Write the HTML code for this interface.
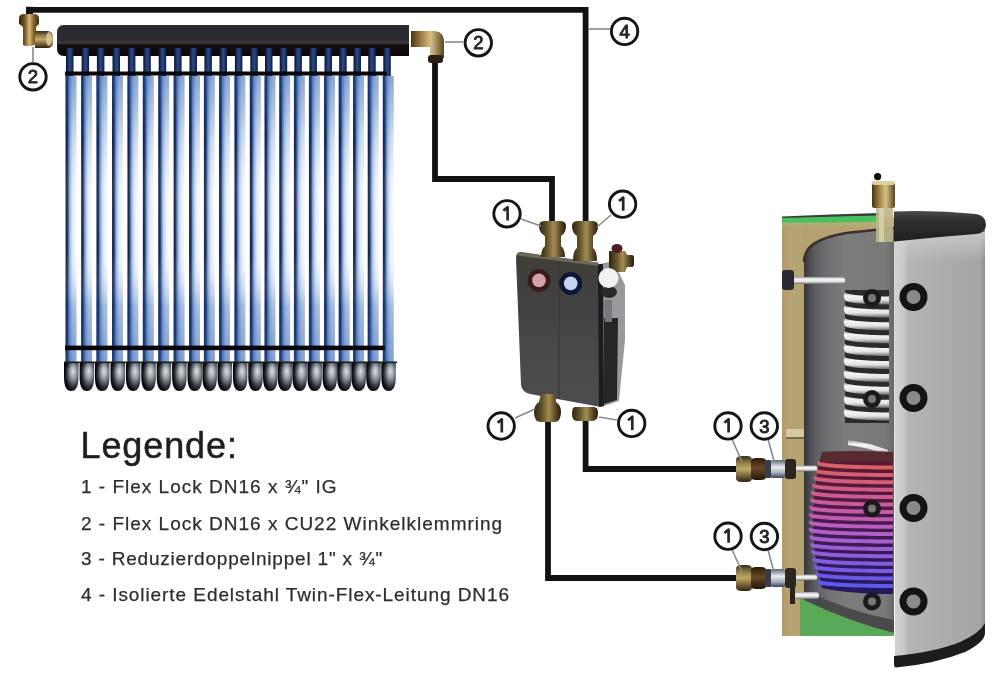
<!DOCTYPE html>
<html><head><meta charset="utf-8">
<style>
html,body{margin:0;padding:0;background:#fff;}
body{width:1000px;height:674px;overflow:hidden;position:relative;}
svg{position:absolute;left:0;top:0;}
#wrap{position:absolute;left:0;top:0;width:1000px;height:674px;background:#fff;filter:blur(0.45px);}
.lg{position:absolute;font-family:"Liberation Sans",sans-serif;color:#1e1e1e;white-space:nowrap;line-height:1;}
.it{font-size:19px;color:#2e2e2e;-webkit-text-stroke:0.25px #2e2e2e;}
</style></head><body>
<div id="wrap">

<svg width="1000" height="674" viewBox="0 0 1000 674">
<defs>
<linearGradient id="tubeH" x1="0" x2="1" y1="0" y2="0">
<stop offset="0" stop-color="#22305f"/>
<stop offset="0.08" stop-color="#0c1438"/>
<stop offset="0.2" stop-color="#1a3068"/>
<stop offset="0.32" stop-color="#6a90c8"/>
<stop offset="0.48" stop-color="#b4cce8"/>
<stop offset="0.68" stop-color="#e6eef8"/>
<stop offset="1" stop-color="#f8fbfe"/>
</linearGradient>
<linearGradient id="tubeV" x1="0" x2="0" y1="0" y2="1">
<stop offset="0" stop-color="#2a5aa8" stop-opacity="0.5"/>
<stop offset="0.22" stop-color="#2a5aa8" stop-opacity="0.15"/>
<stop offset="0.4" stop-color="#ffffff" stop-opacity="0.1"/>
<stop offset="0.62" stop-color="#ffffff" stop-opacity="0.05"/>
<stop offset="0.8" stop-color="#2a5aa8" stop-opacity="0.35"/>
<stop offset="1" stop-color="#2a5aa8" stop-opacity="0.55"/>
</linearGradient>
<linearGradient id="neck" x1="0" x2="1" y1="0" y2="0">
<stop offset="0" stop-color="#0a1030"/>
<stop offset="0.5" stop-color="#2c4c86"/>
<stop offset="1" stop-color="#101c44"/>
</linearGradient>
<linearGradient id="capH" x1="0" x2="1" y1="0" y2="0">
<stop offset="0" stop-color="#0e1014"/>
<stop offset="0.22" stop-color="#3a3e46"/>
<stop offset="0.48" stop-color="#a4acb6"/>
<stop offset="0.62" stop-color="#cfd5dc"/>
<stop offset="0.82" stop-color="#8a9098"/>
<stop offset="1" stop-color="#2a2e34"/>
</linearGradient>
<radialGradient id="capR" cx="0.66" cy="0.42" r="0.62" fx="0.62" fy="0.3">
<stop offset="0" stop-color="#dde2e8"/>
<stop offset="0.35" stop-color="#9aa0a8"/>
<stop offset="0.75" stop-color="#2e3238"/>
<stop offset="1" stop-color="#060708"/>
</radialGradient>
<linearGradient id="hdr" x1="0" x2="0" y1="0" y2="1">
<stop offset="0" stop-color="#2a2a30"/>
<stop offset="0.5" stop-color="#2c2c32"/>
<stop offset="0.58" stop-color="#3a3a40"/>
<stop offset="0.65" stop-color="#150d0d"/>
<stop offset="1" stop-color="#0d0808"/>
</linearGradient>
<linearGradient id="brass" x1="0" x2="1" y1="0" y2="0">
<stop offset="0" stop-color="#4a3512"/>
<stop offset="0.35" stop-color="#a8894a"/>
<stop offset="0.6" stop-color="#d6c088"/>
<stop offset="1" stop-color="#5a4420"/>
</linearGradient>
<linearGradient id="olive" x1="0" x2="1" y1="0" y2="0">
<stop offset="0" stop-color="#2e2410"/>
<stop offset="0.3" stop-color="#64542a"/>
<stop offset="0.55" stop-color="#a48c54"/>
<stop offset="0.8" stop-color="#584826"/>
<stop offset="1" stop-color="#261c0a"/>
</linearGradient>
<linearGradient id="brassD" x1="0" x2="1" y1="0" y2="0">
<stop offset="0" stop-color="#2e2008"/>
<stop offset="0.3" stop-color="#7a5a28"/>
<stop offset="0.52" stop-color="#d8b878"/>
<stop offset="0.72" stop-color="#8a6a30"/>
<stop offset="1" stop-color="#3a2a10"/>
</linearGradient>
<linearGradient id="darkNut" x1="0" x2="0" y1="0" y2="1">
<stop offset="0" stop-color="#2a1a0a"/>
<stop offset="0.45" stop-color="#6a4a26"/>
<stop offset="1" stop-color="#22160a"/>
</linearGradient>
<linearGradient id="oliveV" x1="0" x2="0" y1="0" y2="1">
<stop offset="0" stop-color="#3a2e12"/>
<stop offset="0.3" stop-color="#9a8450"/>
<stop offset="0.5" stop-color="#c0a868"/>
<stop offset="0.8" stop-color="#6a5830"/>
<stop offset="1" stop-color="#2e2410"/>
</linearGradient>
<linearGradient id="brassV" x1="0" x2="0" y1="0" y2="1">
<stop offset="0" stop-color="#5a4420"/>
<stop offset="0.4" stop-color="#c8ac70"/>
<stop offset="0.7" stop-color="#a08040"/>
<stop offset="1" stop-color="#4a3512"/>
</linearGradient>
<linearGradient id="chrome" x1="0" x2="0" y1="0" y2="1">
<stop offset="0" stop-color="#606878"/>
<stop offset="0.4" stop-color="#e8ecf2"/>
<stop offset="0.7" stop-color="#a8b0bc"/>
<stop offset="1" stop-color="#3a4050"/>
</linearGradient>
<linearGradient id="silver" x1="0" x2="0" y1="0" y2="1">
<stop offset="0" stop-color="#9a9a9a"/>
<stop offset="0.3" stop-color="#f6f6f6"/>
<stop offset="0.65" stop-color="#e4e4e4"/>
<stop offset="1" stop-color="#6a6a6a"/>
</linearGradient>
<linearGradient id="shell" x1="0" x2="1" y1="0" y2="0">
<stop offset="0" stop-color="#d2d2d0"/>
<stop offset="0.1" stop-color="#cacaca"/>
<stop offset="0.16" stop-color="#b4b4b4"/>
<stop offset="0.6" stop-color="#ababab"/>
<stop offset="0.94" stop-color="#a6a6a6"/>
<stop offset="1" stop-color="#8e8e8e"/>
</linearGradient>
<linearGradient id="shellTop" x1="0" x2="0" y1="0" y2="1">
<stop offset="0" stop-color="#d0d0d0" stop-opacity="0.8"/>
<stop offset="1" stop-color="#d0d0d0" stop-opacity="0"/>
</linearGradient>
<linearGradient id="coilBg" x1="0" x2="0" y1="0" y2="1">
<stop offset="0" stop-color="#5a1a28"/>
<stop offset="0.5" stop-color="#4a1a4e"/>
<stop offset="1" stop-color="#24185e"/>
</linearGradient>
<linearGradient id="inner" x1="0" x2="1" y1="0" y2="0">
<stop offset="0" stop-color="#36363e"/>
<stop offset="0.05" stop-color="#46464c"/>
<stop offset="0.12" stop-color="#5c5c60"/>
<stop offset="0.25" stop-color="#6e6e70"/>
<stop offset="0.45" stop-color="#7c7b7b"/>
<stop offset="0.9" stop-color="#7a7a7a"/>
<stop offset="1" stop-color="#686868"/>
</linearGradient>
<linearGradient id="beige" x1="0" x2="1" y1="0" y2="0">
<stop offset="0" stop-color="#b29a6a"/>
<stop offset="0.08" stop-color="#b9a173"/>
<stop offset="0.16" stop-color="#b2a672"/>
<stop offset="0.2" stop-color="#b4a070"/>
<stop offset="1" stop-color="#bca676"/>
</linearGradient>
<linearGradient id="pumpF" x1="0" x2="0" y1="0" y2="1">
<stop offset="0" stop-color="#403e36"/>
<stop offset="0.35" stop-color="#434142"/>
<stop offset="0.7" stop-color="#4a4a4c"/>
<stop offset="1" stop-color="#4c4c50"/>
</linearGradient>
<linearGradient id="cap" x1="0" x2="0" y1="0" y2="1">
<stop offset="0" stop-color="#4a4a4c"/>
<stop offset="0.3" stop-color="#303032"/>
<stop offset="1" stop-color="#1e1e20"/>
</linearGradient>
</defs>

<!-- ===== collector ===== -->
<path d="M64 25 H409 V56 H64 Q57 56 57 48 V33 Q57 25 64 25 Z" fill="url(#hdr)"/>
<rect x="66.0" y="48" width="7.5" height="30" fill="url(#neck)"/>
<rect x="65.5" y="76" width="11" height="288" fill="url(#tubeH)"/>
<rect x="65.5" y="76" width="11" height="288" fill="url(#tubeV)"/>
<path d="M64.0 362 h14.5 v15 q0 14 -7.25 14 q-7.25 0 -7.25 -14 z" fill="url(#capR)"/>
<rect x="81.6" y="48" width="7.5" height="30" fill="url(#neck)"/>
<rect x="81.1" y="76" width="11" height="288" fill="url(#tubeH)"/>
<rect x="81.1" y="76" width="11" height="288" fill="url(#tubeV)"/>
<path d="M79.6 362 h14.5 v15 q0 14 -7.25 14 q-7.25 0 -7.25 -14 z" fill="url(#capR)"/>
<rect x="96.9" y="48" width="7.5" height="30" fill="url(#neck)"/>
<rect x="96.4" y="76" width="11" height="288" fill="url(#tubeH)"/>
<rect x="96.4" y="76" width="11" height="288" fill="url(#tubeV)"/>
<path d="M94.9 362 h14.5 v15 q0 14 -7.25 14 q-7.25 0 -7.25 -14 z" fill="url(#capR)"/>
<rect x="112.5" y="48" width="7.5" height="30" fill="url(#neck)"/>
<rect x="112.0" y="76" width="11" height="288" fill="url(#tubeH)"/>
<rect x="112.0" y="76" width="11" height="288" fill="url(#tubeV)"/>
<path d="M110.5 362 h14.5 v15 q0 14 -7.25 14 q-7.25 0 -7.25 -14 z" fill="url(#capR)"/>
<rect x="127.9" y="48" width="7.5" height="30" fill="url(#neck)"/>
<rect x="127.4" y="76" width="11" height="288" fill="url(#tubeH)"/>
<rect x="127.4" y="76" width="11" height="288" fill="url(#tubeV)"/>
<path d="M125.9 362 h14.5 v15 q0 14 -7.25 14 q-7.25 0 -7.25 -14 z" fill="url(#capR)"/>
<rect x="143.3" y="48" width="7.5" height="30" fill="url(#neck)"/>
<rect x="142.8" y="76" width="11" height="288" fill="url(#tubeH)"/>
<rect x="142.8" y="76" width="11" height="288" fill="url(#tubeV)"/>
<path d="M141.3 362 h14.5 v15 q0 14 -7.25 14 q-7.25 0 -7.25 -14 z" fill="url(#capR)"/>
<rect x="158.7" y="48" width="7.5" height="30" fill="url(#neck)"/>
<rect x="158.2" y="76" width="11" height="288" fill="url(#tubeH)"/>
<rect x="158.2" y="76" width="11" height="288" fill="url(#tubeV)"/>
<path d="M156.7 362 h14.5 v15 q0 14 -7.25 14 q-7.25 0 -7.25 -14 z" fill="url(#capR)"/>
<rect x="174.1" y="48" width="7.5" height="30" fill="url(#neck)"/>
<rect x="173.6" y="76" width="11" height="288" fill="url(#tubeH)"/>
<rect x="173.6" y="76" width="11" height="288" fill="url(#tubeV)"/>
<path d="M172.1 362 h14.5 v15 q0 14 -7.25 14 q-7.25 0 -7.25 -14 z" fill="url(#capR)"/>
<rect x="189.5" y="48" width="7.5" height="30" fill="url(#neck)"/>
<rect x="189.0" y="76" width="11" height="288" fill="url(#tubeH)"/>
<rect x="189.0" y="76" width="11" height="288" fill="url(#tubeV)"/>
<path d="M187.5 362 h14.5 v15 q0 14 -7.25 14 q-7.25 0 -7.25 -14 z" fill="url(#capR)"/>
<rect x="204.4" y="48" width="7.5" height="30" fill="url(#neck)"/>
<rect x="203.9" y="76" width="11" height="288" fill="url(#tubeH)"/>
<rect x="203.9" y="76" width="11" height="288" fill="url(#tubeV)"/>
<path d="M202.4 362 h14.5 v15 q0 14 -7.25 14 q-7.25 0 -7.25 -14 z" fill="url(#capR)"/>
<rect x="219.5" y="48" width="7.5" height="30" fill="url(#neck)"/>
<rect x="219.0" y="76" width="11" height="288" fill="url(#tubeH)"/>
<rect x="219.0" y="76" width="11" height="288" fill="url(#tubeV)"/>
<path d="M217.5 362 h14.5 v15 q0 14 -7.25 14 q-7.25 0 -7.25 -14 z" fill="url(#capR)"/>
<rect x="234.9" y="48" width="7.5" height="30" fill="url(#neck)"/>
<rect x="234.4" y="76" width="11" height="288" fill="url(#tubeH)"/>
<rect x="234.4" y="76" width="11" height="288" fill="url(#tubeV)"/>
<path d="M232.9 362 h14.5 v15 q0 14 -7.25 14 q-7.25 0 -7.25 -14 z" fill="url(#capR)"/>
<rect x="250.3" y="48" width="7.5" height="30" fill="url(#neck)"/>
<rect x="249.8" y="76" width="11" height="288" fill="url(#tubeH)"/>
<rect x="249.8" y="76" width="11" height="288" fill="url(#tubeV)"/>
<path d="M248.3 362 h14.5 v15 q0 14 -7.25 14 q-7.25 0 -7.25 -14 z" fill="url(#capR)"/>
<rect x="265.0" y="48" width="7.5" height="30" fill="url(#neck)"/>
<rect x="264.5" y="76" width="11" height="288" fill="url(#tubeH)"/>
<rect x="264.5" y="76" width="11" height="288" fill="url(#tubeV)"/>
<path d="M263.0 362 h14.5 v15 q0 14 -7.25 14 q-7.25 0 -7.25 -14 z" fill="url(#capR)"/>
<rect x="279.7" y="48" width="7.5" height="30" fill="url(#neck)"/>
<rect x="279.2" y="76" width="11" height="288" fill="url(#tubeH)"/>
<rect x="279.2" y="76" width="11" height="288" fill="url(#tubeV)"/>
<path d="M277.7 362 h14.5 v15 q0 14 -7.25 14 q-7.25 0 -7.25 -14 z" fill="url(#capR)"/>
<rect x="294.4" y="48" width="7.5" height="30" fill="url(#neck)"/>
<rect x="293.9" y="76" width="11" height="288" fill="url(#tubeH)"/>
<rect x="293.9" y="76" width="11" height="288" fill="url(#tubeV)"/>
<path d="M292.4 362 h14.5 v15 q0 14 -7.25 14 q-7.25 0 -7.25 -14 z" fill="url(#capR)"/>
<rect x="309.4" y="48" width="7.5" height="30" fill="url(#neck)"/>
<rect x="308.9" y="76" width="11" height="288" fill="url(#tubeH)"/>
<rect x="308.9" y="76" width="11" height="288" fill="url(#tubeV)"/>
<path d="M307.4 362 h14.5 v15 q0 14 -7.25 14 q-7.25 0 -7.25 -14 z" fill="url(#capR)"/>
<rect x="324.5" y="48" width="7.5" height="30" fill="url(#neck)"/>
<rect x="324.0" y="76" width="11" height="288" fill="url(#tubeH)"/>
<rect x="324.0" y="76" width="11" height="288" fill="url(#tubeV)"/>
<path d="M322.5 362 h14.5 v15 q0 14 -7.25 14 q-7.25 0 -7.25 -14 z" fill="url(#capR)"/>
<rect x="339.2" y="48" width="7.5" height="30" fill="url(#neck)"/>
<rect x="338.7" y="76" width="11" height="288" fill="url(#tubeH)"/>
<rect x="338.7" y="76" width="11" height="288" fill="url(#tubeV)"/>
<path d="M337.2 362 h14.5 v15 q0 14 -7.25 14 q-7.25 0 -7.25 -14 z" fill="url(#capR)"/>
<rect x="353.5" y="48" width="7.5" height="30" fill="url(#neck)"/>
<rect x="353.0" y="76" width="11" height="288" fill="url(#tubeH)"/>
<rect x="353.0" y="76" width="11" height="288" fill="url(#tubeV)"/>
<path d="M351.5 362 h14.5 v15 q0 14 -7.25 14 q-7.25 0 -7.25 -14 z" fill="url(#capR)"/>
<rect x="368.2" y="48" width="7.5" height="30" fill="url(#neck)"/>
<rect x="367.7" y="76" width="11" height="288" fill="url(#tubeH)"/>
<rect x="367.7" y="76" width="11" height="288" fill="url(#tubeV)"/>
<path d="M366.2 362 h14.5 v15 q0 14 -7.25 14 q-7.25 0 -7.25 -14 z" fill="url(#capR)"/>
<rect x="383.3" y="48" width="7.5" height="30" fill="url(#neck)"/>
<rect x="382.8" y="76" width="11" height="288" fill="url(#tubeH)"/>
<rect x="382.8" y="76" width="11" height="288" fill="url(#tubeV)"/>
<path d="M381.3 362 h14.5 v15 q0 14 -7.25 14 q-7.25 0 -7.25 -14 z" fill="url(#capR)"/>
<rect x="65" y="71.5" width="322" height="4" fill="#08080c"/>
<rect x="65" y="345.6" width="320" height="4.6" fill="#08080c"/>
<rect x="64" y="361.5" width="333" height="1.5" fill="#1a1a1e"/>

<!-- ===== pipes ===== -->
<g fill="none" stroke="#121212" stroke-width="5.8" stroke-linejoin="miter">
<path d="M29.5 15 V9.8 H585.6 V224"/>
<path d="M435 60 V179 H552 V224"/>
<path d="M548 420 V578 H740"/>
<path d="M585.6 418 V469 H740"/>
</g>

<!-- brass fittings at collector -->
<g>
<path d="M26 6.8 H33 V15 H26 Z" fill="#121212"/>
<path d="M19 19 Q19 14 24 14 H34 Q39 14 39 19 V24 Q36 26 36 28 V44 Q30 48 23 45 V28 Q23 26 19 24 Z" fill="url(#brassD)"/>
<path d="M35 31 H47 Q53 31 53 38 V42 Q53 48 47 48 H35 Z" fill="url(#oliveV)"/>
<ellipse cx="49" cy="39" rx="3" ry="7" fill="#d8d4a0" opacity="0.8"/>
<path d="M411 31 H433 Q444 31 444 42 V58 H430 V47 H411 Z" fill="url(#brass)"/>
<rect x="428" y="55" width="15" height="8" rx="3" fill="#2a1e10"/>
</g>

<!-- ===== pump station ===== -->
<path d="M521 252 L596 263 Q600 264 600 268 L601 407 L530 394 Q522 392 521 385 L516 258 Q516 252 521 252 Z" fill="url(#pumpF)"/>
<path d="M600 264 L613 261 L625 285 L625 340 L619 401 L601 407 Z" fill="#9a9a9e"/>
<path d="M598 264 L603 264 L604 406 L599 407 Z" fill="#1c1c1e"/>
<path d="M604 318 L618 318 L617 400 L604 404 Z" fill="#262628"/>
<ellipse cx="609" cy="292" rx="8" ry="6" fill="#2a2a2c"/>
<path d="M604 300 L612 300 L612 322 L605 322 Z" fill="#78787c"/>
<line x1="559" y1="262" x2="559" y2="399" stroke="#3a3a3c" stroke-width="1.2"/>
<path d="M519 254 L597 264" stroke="#6c6a5a" stroke-width="3.5" fill="none" stroke-linecap="round"/>
<!-- fittings pump -->
<path d="M539 226 Q539 221 545 221 H560 Q566 221 566 226 Q566 233 561 236 V246 Q565 249 565 257 H541 Q541 249 545 246 V236 Q539 233 539 226 Z" fill="url(#olive)"/>
<path d="M572 226 Q572 221 578 221 H592 Q598 221 598 226 Q598 233 593 236 V248 Q597 251 597 261 H573 Q573 251 577 248 V236 Q572 233 572 226 Z" fill="url(#olive)"/>
<path d="M541 394 H556 V402 Q561 405 561 412 Q561 422 554 422 H541 Q534 422 534 412 Q534 405 539 402 Z" fill="url(#olive)"/>
<path d="M575 407 H594 Q598 407 598 413 Q598 421 592 421 H577 Q572 421 572 414 Q572 407 575 407 Z" fill="url(#olive)"/>
<path d="M609 251 h16 l2 4 h5 q2 0 2 3 v6 q0 3 -2 3 h-5 l-2 5 h-16 z" fill="url(#olive)"/>
<ellipse cx="617" cy="248.5" rx="5.5" ry="4.5" fill="#4a1e22"/>
<circle cx="539" cy="280.4" r="11.4" fill="#3a1a1c"/><circle cx="539" cy="280.4" r="6.8" fill="#d4a0a8"/>
<circle cx="570.7" cy="283.4" r="11.5" fill="#0e1636"/><circle cx="570.7" cy="283.4" r="6.8" fill="#c4d4f0"/>
<circle cx="608.5" cy="278" r="10" fill="#f2f2f2"/>

<!-- ===== tank ===== -->
<rect x="782" y="217" width="112" height="419" fill="url(#beige)"/>
<path d="M782 216.5 Q830 214 880 213 V216 Q830 217 782 218.5 Z" fill="#3a3a36"/>
<path d="M782 218 Q830 216.5 880 215.5 V221.5 Q830 222.5 782 223 Z" fill="#46c060"/>
<rect x="782" y="222.5" width="98" height="3" fill="#a8b878" opacity="0.7"/>
<path d="M804 262 C804 246 818 238 846 233 L894 228 V632 Q850 620 804 595 Z" fill="url(#inner)"/>
<path d="M804 262 C804 246 818 238 846 233 L894 228" fill="none" stroke="#3a302a" stroke-width="2.5"/>
<path d="M800 595 Q850 622 894 633 V636 H800 Z" fill="#58a858"/>
<path d="M804 590 Q850 612 894 620 V633 Q850 622 804 600 Z" fill="#4a4a4c"/>
<rect x="845" y="290" width="44" height="133" fill="#2a2a2c"/>
<path d="M845.0 292.0 C845.0 294.7 864.8 296.5 889.0 296.5 v8.0 C864.8 304.5 845.0 302.7 845.0 300.0 Q842.5 296.0 845.0 292.0 z" fill="url(#silver)"/>
<path d="M845.0 304.9 C845.0 307.6 864.8 309.4 889.0 309.4 v8.0 C864.8 317.4 845.0 315.6 845.0 312.9 Q842.5 308.9 845.0 304.9 z" fill="url(#silver)"/>
<path d="M845.0 317.8 C845.0 320.5 864.8 322.3 889.0 322.3 v8.0 C864.8 330.3 845.0 328.5 845.0 325.8 Q842.5 321.8 845.0 317.8 z" fill="url(#silver)"/>
<path d="M845.0 330.7 C845.0 333.4 864.8 335.2 889.0 335.2 v8.0 C864.8 343.2 845.0 341.4 845.0 338.7 Q842.5 334.7 845.0 330.7 z" fill="url(#silver)"/>
<path d="M845.0 343.6 C845.0 346.3 864.8 348.1 889.0 348.1 v8.0 C864.8 356.1 845.0 354.3 845.0 351.6 Q842.5 347.6 845.0 343.6 z" fill="url(#silver)"/>
<path d="M845.0 356.5 C845.0 359.2 864.8 361.0 889.0 361.0 v8.0 C864.8 369.0 845.0 367.2 845.0 364.5 Q842.5 360.5 845.0 356.5 z" fill="url(#silver)"/>
<path d="M845.0 369.4 C845.0 372.1 864.8 373.9 889.0 373.9 v8.0 C864.8 381.9 845.0 380.1 845.0 377.4 Q842.5 373.4 845.0 369.4 z" fill="url(#silver)"/>
<path d="M845.0 382.3 C845.0 385.0 864.8 386.8 889.0 386.8 v8.0 C864.8 394.8 845.0 393.0 845.0 390.3 Q842.5 386.3 845.0 382.3 z" fill="url(#silver)"/>
<path d="M845.0 395.2 C845.0 397.9 864.8 399.7 889.0 399.7 v8.0 C864.8 407.7 845.0 405.9 845.0 403.2 Q842.5 399.2 845.0 395.2 z" fill="url(#silver)"/>
<path d="M845.0 408.1 C845.0 410.8 864.8 412.6 889.0 412.6 v8.0 C864.8 420.6 845.0 418.8 845.0 416.1 Q842.5 412.1 845.0 408.1 z" fill="url(#silver)"/>
<path d="M848 440 Q866 442 888 450 v5 Q866 447 848 445 Z" fill="url(#silver)"/>
<path d="M822 452 Q850 452 893 455 V594 Q850 594 822 588 Q804 522 822 452 Z" fill="url(#coilBg)"/>
<path d="M822 452 Q850 450 893 452 V462 Q850 462 822 462 Z" fill="#5a2a32"/>
<path d="M818.5 461.0 C818.5 463.7 852.0 465.5 893.0 465.5 v4.0 C852.0 469.5 818.5 467.7 818.5 465.0 Q816.0 463.0 818.5 461.0 z" fill="rgb(218, 95, 105)"/>
<path d="M816.5 468.4 C816.5 471.1 850.9 472.9 893.0 472.9 v4.0 C850.9 476.9 816.5 475.1 816.5 472.4 Q814.0 470.4 816.5 468.4 z" fill="rgb(215, 93, 114)"/>
<path d="M814.8 475.8 C814.8 478.5 850.0 480.3 893.0 480.3 v4.0 C850.0 484.3 814.8 482.5 814.8 479.8 Q812.3 477.8 814.8 475.8 z" fill="rgb(212, 92, 123)"/>
<path d="M813.3 483.2 C813.3 485.9 849.2 487.7 893.0 487.7 v4.0 C849.2 491.7 813.3 489.9 813.3 487.2 Q810.8 485.2 813.3 483.2 z" fill="rgb(209, 91, 133)"/>
<path d="M812.1 490.6 C812.1 493.3 848.5 495.1 893.0 495.1 v4.0 C848.5 499.1 812.1 497.3 812.1 494.6 Q809.6 492.6 812.1 490.6 z" fill="rgb(207, 90, 142)"/>
<path d="M811.2 498.0 C811.2 500.7 848.0 502.5 893.0 502.5 v4.0 C848.0 506.5 811.2 504.7 811.2 502.0 Q808.7 500.0 811.2 498.0 z" fill="rgb(203, 90, 152)"/>
<path d="M810.5 505.4 C810.5 508.1 847.6 509.9 893.0 509.9 v4.0 C847.6 513.9 810.5 512.1 810.5 509.4 Q808.0 507.4 810.5 505.4 z" fill="rgb(197, 91, 165)"/>
<path d="M810.1 512.8 C810.1 515.5 847.4 517.3 893.0 517.3 v4.0 C847.4 521.3 810.1 519.5 810.1 516.8 Q807.6 514.8 810.1 512.8 z" fill="rgb(191, 92, 177)"/>
<path d="M810.0 520.2 C810.0 522.9 847.4 524.7 893.0 524.7 v4.0 C847.4 528.7 810.0 526.9 810.0 524.2 Q807.5 522.2 810.0 520.2 z" fill="rgb(185, 94, 190)"/>
<path d="M810.1 527.6 C810.1 530.3 847.4 532.1 893.0 532.1 v4.0 C847.4 536.1 810.1 534.3 810.1 531.6 Q807.6 529.6 810.1 527.6 z" fill="rgb(177, 95, 201)"/>
<path d="M810.6 535.0 C810.6 537.7 847.7 539.5 893.0 539.5 v4.0 C847.7 543.5 810.6 541.7 810.6 539.0 Q808.1 537.0 810.6 535.0 z" fill="rgb(165, 95, 207)"/>
<path d="M811.2 542.4 C811.2 545.1 848.0 546.9 893.0 546.9 v4.0 C848.0 550.9 811.2 549.1 811.2 546.4 Q808.7 544.4 811.2 542.4 z" fill="rgb(152, 95, 213)"/>
<path d="M812.2 549.8 C812.2 552.5 848.5 554.3 893.0 554.3 v4.0 C848.5 558.3 812.2 556.5 812.2 553.8 Q809.7 551.8 812.2 549.8 z" fill="rgb(140, 95, 220)"/>
<path d="M813.4 557.2 C813.4 559.9 849.2 561.7 893.0 561.7 v4.0 C849.2 565.7 813.4 563.9 813.4 561.2 Q810.9 559.2 813.4 557.2 z" fill="rgb(127, 94, 225)"/>
<path d="M814.9 564.6 C814.9 567.3 850.0 569.1 893.0 569.1 v4.0 C850.0 573.1 814.9 571.3 814.9 568.6 Q812.4 566.6 814.9 564.6 z" fill="rgb(115, 93, 228)"/>
<path d="M816.6 572.0 C816.6 574.7 851.0 576.5 893.0 576.5 v4.0 C851.0 580.5 816.6 578.7 816.6 576.0 Q814.1 574.0 816.6 572.0 z" fill="rgb(102, 91, 231)"/>
<path d="M818.6 579.4 C818.6 582.1 852.1 583.9 893.0 583.9 v4.0 C852.1 587.9 818.6 586.1 818.6 583.4 Q816.1 581.4 818.6 579.4 z" fill="rgb(90, 90, 235)"/>
<path d="M894 228 H985 V624 Q980 633 960 642 Q935 652 895 657 Z" fill="url(#shell)"/>
<rect x="894" y="232" width="91" height="30" fill="url(#shellTop)"/>
<path d="M894 211.5 Q935 210 976 214 Q986 215.5 986 224.5 Q986 233.5 976 234 Q935 237 894 241.5 Z" fill="url(#cap)"/>
<path d="M894 656 Q935 652 960 642 Q980 633 985 623 V633 Q985 642 965 652 Q935 664 896 667.5 Q894 667.5 894 664 Z" fill="#1c1c1c"/>
<g>
<circle cx="913.5" cy="297" r="14" fill="#141414"/><circle cx="913.5" cy="297" r="7" fill="#8a8a8a"/>
<circle cx="913.5" cy="398" r="14" fill="#141414"/><circle cx="913.5" cy="398" r="7" fill="#8a8a8a"/>
<circle cx="913.5" cy="508" r="14" fill="#141414"/><circle cx="913.5" cy="508" r="7" fill="#8a8a8a"/>
<circle cx="913.5" cy="601.5" r="14" fill="#141414"/><circle cx="913.5" cy="601.5" r="7" fill="#8a8a8a"/>
<circle cx="872" cy="298" r="9" fill="#1a1a1a"/><circle cx="872" cy="298" r="4" fill="#777"/>
<circle cx="872" cy="399" r="9" fill="#1a1a1a"/><circle cx="872" cy="399" r="4" fill="#777"/>
<circle cx="872" cy="508.5" r="9" fill="#1a1a1a"/><circle cx="872" cy="508.5" r="4" fill="#777"/>
<circle cx="872" cy="601.5" r="9" fill="#1a1a1a"/><circle cx="872" cy="601.5" r="4" fill="#777"/>
</g>
<!-- vent -->
<rect x="876" y="205" width="17" height="37" fill="#bdb68a" opacity="0.9"/>
<rect x="879" y="205" width="5" height="37" fill="#ddd8b0" opacity="0.7"/>
<rect x="872" y="182" width="23" height="26" rx="2" fill="url(#brass)"/>
<rect x="872" y="181" width="23" height="4" rx="2" fill="#e0d0a0"/>
<circle cx="877.6" cy="176.6" r="3.6" fill="#111"/>
<!-- left connections -->
<rect x="790" y="277" width="55" height="7" rx="3" fill="url(#silver)"/>
<rect x="782" y="270" width="12" height="20" rx="3" fill="#2a2a35"/>
<rect x="786" y="429" width="18" height="9" fill="#d6c8a0"/>
<rect x="786" y="437" width="18" height="2" fill="#7a6a48"/>
<path d="M736 460 Q736 456 742 456 H747 Q752 456 752 460 V478 Q752 482 747 482 H742 Q736 482 736 478 Z" fill="url(#oliveV)"/><path d="M751 461 Q751 458 756 458 H761 Q766 458 766 461 V477 Q766 480 761 480 H756 Q751 480 751 477 Z" fill="url(#darkNut)"/><rect x="765" y="460" width="7" height="18" rx="2" fill="#3a3c48"/><rect x="771" y="460" width="14" height="18" rx="2" fill="url(#chrome)"/><rect x="785" y="459" width="11" height="20" rx="3" fill="#2e2420"/><rect x="796" y="465.5" width="21" height="6" rx="2.5" fill="url(#silver)"/>
<path d="M736 569 Q736 565 742 565 H747 Q752 565 752 569 V587 Q752 591 747 591 H742 Q736 591 736 587 Z" fill="url(#oliveV)"/><path d="M751 570 Q751 567 756 567 H761 Q766 567 766 570 V586 Q766 589 761 589 H756 Q751 589 751 586 Z" fill="url(#darkNut)"/><rect x="765" y="569" width="7" height="18" rx="2" fill="#3a3c48"/><rect x="771" y="569" width="14" height="18" rx="2" fill="url(#chrome)"/><rect x="785" y="568" width="11" height="20" rx="3" fill="#2e2420"/><rect x="796" y="574.5" width="21" height="6" rx="2.5" fill="url(#silver)"/>
<rect x="795" y="592" width="24" height="7" rx="3" fill="url(#silver)"/>
<rect x="790" y="586" width="5" height="18" fill="#2a2420"/>
<!-- ===== leaders ===== -->
<g stroke="#8a8a8a" stroke-width="1.6">
<line x1="33" y1="47" x2="33" y2="62"/><line x1="445" y1="42" x2="463" y2="42"/><line x1="589" y1="29" x2="610" y2="29"/><line x1="521" y1="219" x2="541" y2="226"/><line x1="611" y1="215" x2="597" y2="227"/><line x1="515" y1="418" x2="535" y2="409"/><line x1="617" y1="420" x2="599" y2="417"/><line x1="732" y1="439" x2="742" y2="462"/><line x1="768" y1="439" x2="774" y2="461"/><line x1="732" y1="549.5" x2="742" y2="572"/><line x1="768" y1="550" x2="774" y2="572"/>
</g>
<!-- ===== number circles ===== -->
<g font-family="Liberation Sans" font-size="18.5" text-anchor="middle" fill="#262626" stroke="#262626" stroke-width="0.9">
<circle cx="33" cy="76.8" r="13.2" fill="#fff" stroke="#151515" stroke-width="2.9"/><text x="33" y="83.4" >2</text><circle cx="478.3" cy="42.8" r="13.2" fill="#fff" stroke="#151515" stroke-width="2.9"/><text x="478.3" y="49.4" >2</text><circle cx="624.6" cy="31.4" r="13.2" fill="#fff" stroke="#151515" stroke-width="2.9"/><text x="624.6" y="38.0" >4</text><circle cx="507" cy="213.8" r="13.2" fill="#fff" stroke="#151515" stroke-width="2.9"/><path d="M503.4 210.6 L507.6 207.2 L507.6 220.4" fill="none" stroke="#262626" stroke-width="2.7" stroke-linejoin="round"/><circle cx="622.6" cy="204.2" r="13.2" fill="#fff" stroke="#151515" stroke-width="2.9"/><path d="M619.0 201.0 L623.2 197.6 L623.2 210.8" fill="none" stroke="#262626" stroke-width="2.7" stroke-linejoin="round"/><circle cx="501.2" cy="426" r="13.2" fill="#fff" stroke="#151515" stroke-width="2.9"/><path d="M497.6 422.8 L501.8 419.4 L501.8 432.6" fill="none" stroke="#262626" stroke-width="2.7" stroke-linejoin="round"/><circle cx="631.7" cy="423.4" r="13.2" fill="#fff" stroke="#151515" stroke-width="2.9"/><path d="M628.1 420.2 L632.3 416.8 L632.3 430.0" fill="none" stroke="#262626" stroke-width="2.7" stroke-linejoin="round"/><circle cx="728" cy="425.9" r="13.2" fill="#fff" stroke="#151515" stroke-width="2.9"/><path d="M724.4 422.7 L728.6 419.3 L728.6 432.5" fill="none" stroke="#262626" stroke-width="2.7" stroke-linejoin="round"/><circle cx="764.3" cy="426" r="13.2" fill="#fff" stroke="#151515" stroke-width="2.9"/><text x="764.3" y="432.6" >3</text><circle cx="728" cy="536.2" r="13.2" fill="#fff" stroke="#151515" stroke-width="2.9"/><path d="M724.4 533.0 L728.6 529.6 L728.6 542.8" fill="none" stroke="#262626" stroke-width="2.7" stroke-linejoin="round"/><circle cx="764.4" cy="536.5" r="13.2" fill="#fff" stroke="#151515" stroke-width="2.9"/><text x="764.4" y="543.1" >3</text>
</g>
</svg>

<div class="lg" style="left:80.5px;top:427.8px;font-size:36px;letter-spacing:0.9px;-webkit-text-stroke:0.5px #1e1e1e;">Legende:</div>
<div class="lg it" style="left:81px;top:476.9px;letter-spacing:1.0px;">1 - Flex Lock DN16 x ¾" IG</div>
<div class="lg it" style="left:81px;top:513.7px;letter-spacing:1.0px;">2 - Flex Lock DN16 x CU22 Winkelklemmring</div>
<div class="lg it" style="left:81px;top:549.1px;letter-spacing:0.8px;">3 - Reduzierdoppelnippel 1" x ¾"</div>
<div class="lg it" style="left:81px;top:584.5px;letter-spacing:0.93px;">4 - Isolierte Edelstahl Twin-Flex-Leitung DN16</div>
</div>
</body></html>
